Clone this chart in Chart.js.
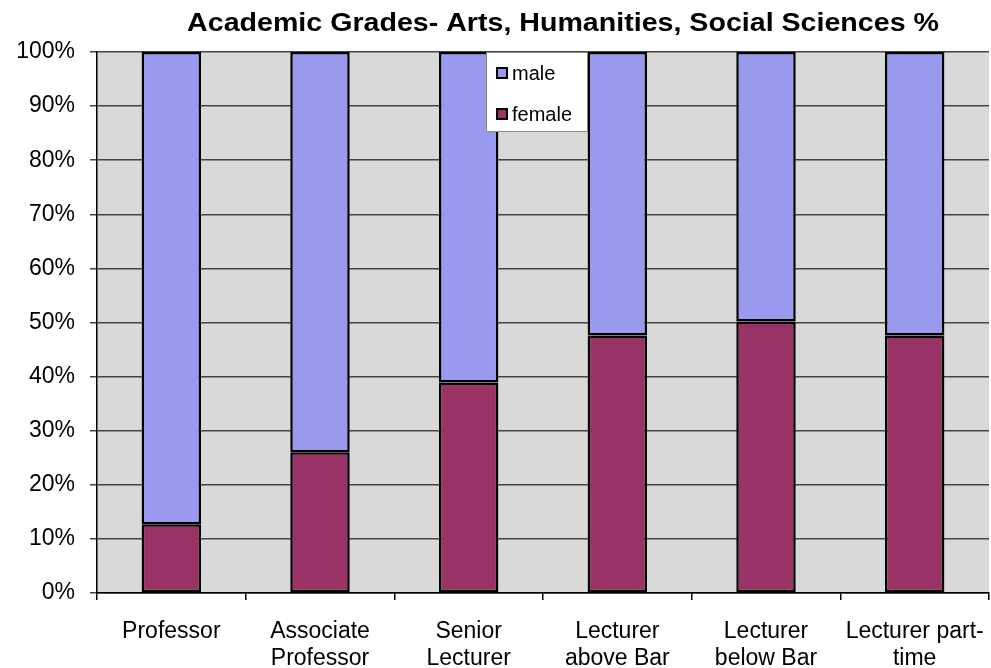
<!DOCTYPE html>
<html>
<head>
<meta charset="utf-8">
<script src="https://cdn.jsdelivr.net/npm/chart.js@4.4.0/dist/chart.umd.min.js"></script>
<style>
  html, body { margin: 0; padding: 0; background: #fff; }
  #wrap { width: 991px; height: 668px; position: relative; }
</style>
</head>
<body>
<div id="wrap"><canvas id="grades"></canvas></div>
<script>
// chart data
var grades = [["Professor"], ["Associate", "Professor"], ["Senior", "Lecturer"],
              ["Lecturer", "above Bar"], ["Lecturer", "below Bar"], ["Lecturer part-", "time"]];
var femalePct = [12.7, 26.0, 38.9, 47.6, 50.2, 47.6];
var malePct = [87.3, 74.0, 61.1, 52.4, 49.8, 52.4];
var yTicks = [0, 10, 20, 30, 40, 50, 60, 70, 80, 90, 100];
var chartTitle = "Academic Grades- Arts, Humanities, Social Sciences %";

var FONT = "'Liberation Sans', Arial, sans-serif";

// grey plot area + title drawn above it (slightly widened like the original)
var plotBg = {
    id: 'plotBg',
    beforeDraw: function (chart) {
        var a = chart.chartArea, ctx = chart.ctx;
        ctx.save();
        ctx.fillStyle = '#d9d9d9';
        ctx.fillRect(a.left, a.top, a.right - a.left, a.bottom - a.top);
        ctx.fillStyle = '#000';
        ctx.font = 'bold 26px ' + FONT;
        ctx.textAlign = 'center';
        ctx.textBaseline = 'middle';
        ctx.translate(563, 24);
        ctx.scale(1.1, 1);
        ctx.fillText(chartTitle, 0, 0);
        ctx.restore();
    }
};

// legend box sitting inside the plot, like the old Excel one
var boxLegend = {
    id: 'boxLegend',
    afterDatasetsDraw: function (chart) {
        var ctx = chart.ctx;
        var x = 486, y = chart.chartArea.top, w = 102, h = 80;
        ctx.save();
        ctx.fillStyle = '#fff';
        ctx.fillRect(x, y, w, h);
        ctx.strokeStyle = '#888';
        ctx.lineWidth = 1;
        ctx.strokeRect(x + 0.5, y + 0.5, w - 1, h - 1);
        var items = chart.data.datasets.slice().reverse();
        ctx.font = '20px ' + FONT;
        ctx.textBaseline = 'middle';
        items.forEach(function (ds, i) {
            var cy = y + 21 + i * 41;
            ctx.fillStyle = ds.backgroundColor;
            ctx.fillRect(x + 11, cy - 5, 10, 10);
            ctx.strokeStyle = '#000';
            ctx.lineWidth = 2;
            ctx.strokeRect(x + 11, cy - 5, 10, 10);
            ctx.fillStyle = '#000';
            ctx.fillText(ds.label, x + 26, cy + 1);
        });
        ctx.restore();
    }
};

new Chart(document.getElementById("grades"), {
    type: 'bar',
    data: {
        labels: grades,
        datasets: [
            {
                label: "female",
                data: femalePct,
                backgroundColor: "#993366",
                borderColor: "#000",
                borderWidth: 2.5,
                borderSkipped: false,
                barPercentage: 0.4,
                categoryPercentage: 1
            },
            {
                label: "male",
                data: malePct,
                backgroundColor: "#9999ee",
                borderColor: "#000",
                borderWidth: 2.5,
                borderSkipped: false,
                barPercentage: 0.4,
                categoryPercentage: 1
            }
        ]
    },
    options: {
        responsive: true,
        maintainAspectRatio: false,
        animation: false,
        layout: { padding: { top: 52, right: 2, left: 0, bottom: 0 } },
        plugins: {
            legend: { display: false },
            title: { display: false },
            tooltip: { enabled: false }
        },
        scales: {
            x: {
                stacked: true,
                offset: true,
                grid: { offset: true, drawOnChartArea: false, drawTicks: true, tickLength: 7, color: '#000', lineWidth: 1.5 },
                border: { color: '#000', width: 1.5 },
                ticks: { color: '#000', font: { family: FONT, size: 23, lineHeight: 1.18 }, padding: 18, maxRotation: 0, autoSkip: false },
                afterFit: function (s) { s.height = 75; s.paddingLeft = 0; s.paddingRight = 0; }
            },
            y: {
                stacked: true,
                min: 0,
                max: 100,
                afterBuildTicks: function (s) { s.ticks = yTicks.map(function (v) { return { value: v }; }); },
                grid: { color: '#444', lineWidth: 1.5, tickLength: 7 },
                border: { color: '#000', width: 1.5 },
                ticks: {
                    color: '#000',
                    font: { family: FONT, size: 23 },
                    padding: 15,
                    callback: function (v) { return v + '%'; }
                },
                afterFit: function (s) { s.width = 97; s.paddingTop = 0; s.paddingBottom = 0; }
            }
        }
    },
    plugins: [plotBg, boxLegend]
});
</script>
</body>
</html>
